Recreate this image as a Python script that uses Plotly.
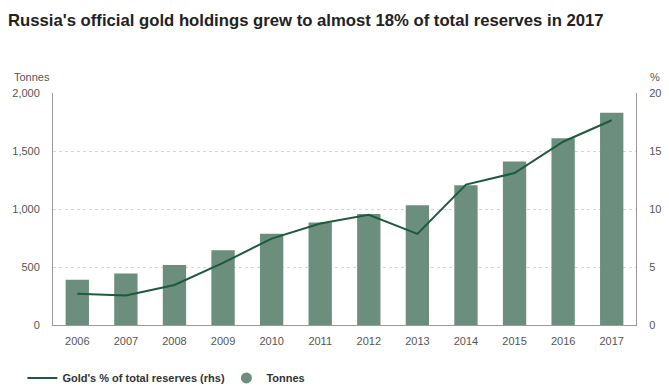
import plotly.graph_objects as go

years = ["2006", "2007", "2008", "2009", "2010", "2011", "2012", "2013", "2014", "2015", "2016", "2017"]
tonnes = [390, 445, 517, 644, 786, 883, 956, 1032, 1205, 1410, 1610, 1830]
gold_pct = [2.7, 2.55, 3.45, 5.35, 7.45, 8.75, 9.5, 7.85, 12.1, 13.1, 15.8, 17.65]

left_ticks = [0, 500, 1000, 1500, 2000]
left_labels = ["0", "500", "1,000", "1,500", "2,000"]
right_ticks = [0, 5, 10, 15, 20]

BAR = "#6b8e7f"
LINE = "#1e5a3d"
FONT = "Liberation Sans, Arial, sans-serif"

fig = go.Figure()
fig.add_trace(go.Bar(x=years, y=tonnes, name="Tonnes", marker=dict(color=BAR, line=dict(width=0)),
                     showlegend=False, yaxis="y"))
fig.add_trace(go.Scatter(x=years, y=gold_pct, name="Gold's % of total reserves (rhs)", mode="lines",
                         line=dict(color=LINE, width=2), yaxis="y2"))
fig.add_trace(go.Scatter(x=[None], y=[None], name="Tonnes", mode="markers",
                         marker=dict(color=BAR, size=11, symbol="circle"), yaxis="y"))

fig.update_layout(
    width=669, height=392,
    margin=dict(l=53, r=33, t=93, b=67, autoexpand=False),
    paper_bgcolor="white", plot_bgcolor="white",
    font=dict(family=FONT, size=11, color="#555555"),
    bargap=0.52,
    title=dict(text="<b>Russia's official gold holdings grew to almost 18% of total reserves in 2017</b>",
               x=0.012, xanchor="left", y=0.948, yanchor="middle",
               font=dict(family=FONT, size=16.7, color="#222222")),
    xaxis=dict(showline=True, linecolor="#999999", linewidth=1, ticks="", showgrid=False,
               automargin=False, ticklabelstandoff=6,
               tickfont=dict(size=11, color="#555555"), mirror=False),
    yaxis=dict(range=[0, 2000], tickvals=left_ticks, ticktext=left_labels, showline=True,
               linecolor="#999999", linewidth=1, showgrid=True, gridcolor="#d6d6d6", griddash="dot",
               gridwidth=1, zeroline=False, ticks="", ticklabelstandoff=10, automargin=False,
               tickfont=dict(size=11, color="#555555")),
    yaxis2=dict(range=[0, 20], tickvals=right_ticks, overlaying="y", side="right", showline=True,
                linecolor="#999999", linewidth=1, showgrid=False, zeroline=False, ticks="",
                ticklabelstandoff=10, automargin=False, tickfont=dict(size=11, color="#555555")),
    legend=dict(orientation="h", x=-0.0525, xanchor="left", y=-0.228, yanchor="middle",
                font=dict(size=11, color="#333333", family="Liberation Sans, Arial, sans-serif",
                          weight="bold"), traceorder="normal",
                entrywidth=159, entrywidthmode="pixels",
                bgcolor="rgba(0,0,0,0)"),
    annotations=[
        dict(text="Tonnes", xref="paper", yref="paper", x=-0.07, y=1.035, xanchor="left",
             yanchor="bottom", showarrow=False, font=dict(size=11, color="#555555")),
        dict(text="%", xref="paper", yref="paper", x=1.02, y=1.035, xanchor="left",
             yanchor="bottom", showarrow=False, font=dict(size=11, color="#555555")),
    ],
)

fig.write_html("out.html", config={"displayModeBar": False},
               post_script="document.body.style.margin='0';")
